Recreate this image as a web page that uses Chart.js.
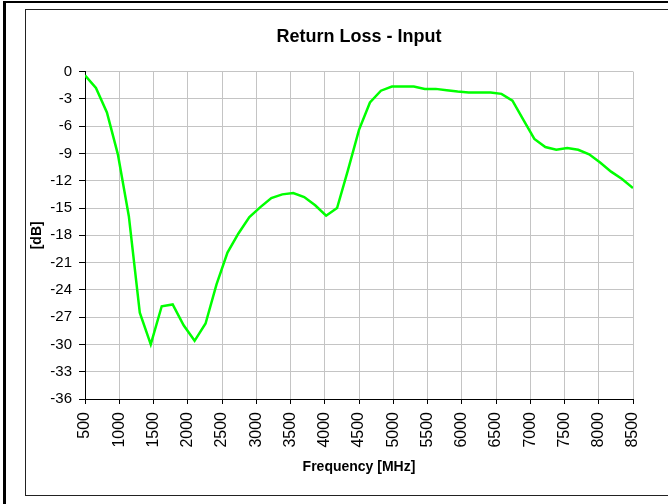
<!DOCTYPE html>
<html>
<head>
<meta charset="utf-8">
<title>Return Loss - Input</title>
<script src="https://cdn.jsdelivr.net/npm/chart.js@4.4.1/dist/chart.umd.min.js"></script>
<style>
    html, body { margin: 0; padding: 0; background: #fff; }
    #wrap { position: relative; width: 668px; height: 504px; overflow: hidden; }
    #chart { position: absolute; left: 0; top: 0; }
    .outer { position: absolute; left: 3px; top: 1px; width: 700px; height: 520px; border-top: 2px solid #000; border-left: 3px solid #000; }
    .inner { position: absolute; left: 25px; top: 9px; width: 700px; height: 485px; border: 1px solid #222; }
</style>
</head>
<body>
<div id="wrap">
    <div class="outer"></div>
    <div class="inner"></div>
    <canvas id="chart" width="668" height="504"></canvas>
</div>
<script>
    // Data (MHz / dB)
    var freqMHz = [500, 660, 820, 980, 1140, 1300, 1460, 1620, 1780, 1940,
        2100, 2260, 2420, 2580, 2740, 2900, 3060, 3220, 3380, 3540,
        3700, 3860, 4020, 4180, 4340, 4500, 4660, 4820, 4980, 5140,
        5300, 5460, 5620, 5780, 5940, 6100, 6260, 6420, 6580, 6740,
        6900, 7060, 7220, 7380, 7540, 7700, 7860, 8020, 8180, 8340, 8500];
    var returnLossDb = [-0.4, -1.8, -4.5, -9.1, -15.9, -26.5, -30.0, -25.8, -25.6, -27.9,
        -29.6, -27.7, -23.4, -19.9, -17.8, -16.0, -14.9, -13.9, -13.5, -13.35,
        -13.8, -14.7, -15.85, -15.0, -10.8, -6.4, -3.4, -2.1, -1.65, -1.65,
        -1.65, -1.9, -1.9, -2.05, -2.2, -2.3, -2.3, -2.3, -2.45, -3.2,
        -5.3, -7.4, -8.3, -8.6, -8.4, -8.6, -9.1, -10.0, -11.0, -11.8, -12.8];

    // Tick labels
    var freqTicks = [500, 1000, 1500, 2000, 2500, 3000, 3500, 4000, 4500,
        5000, 5500, 6000, 6500, 7000, 7500, 8000, 8500];
    var dbTicks = [0, -3, -6, -9, -12, -15, -18, -21, -24, -27, -30, -33, -36];

    Chart.defaults.font.family = '"Liberation Sans", Arial, sans-serif';

    var points = freqMHz.map(function (f, i) {
        return { x: f, y: returnLossDb[i] };
    });

    var ctx = document.getElementById('chart').getContext('2d');
    var myChart = new Chart(ctx, {
        type: 'line',
        data: {
            datasets: [{
                label: 'Return Loss',
                data: points,
                borderColor: '#00ff00',
                borderWidth: 2.5,
                pointRadius: 0,
                tension: 0,
                fill: false
            }]
        },
        options: {
            responsive: false,
            animation: false,
            layout: { padding: { left: 25, top: 10, right: 35, bottom: 8 } },
            plugins: {
                legend: { display: false },
                tooltip: { enabled: false },
                title: {
                    display: true,
                    text: 'Return Loss - Input',
                    fullSize: false,
                    color: '#000',
                    font: { size: 18, weight: 'bold' },
                    padding: { top: 16, bottom: 24 }
                }
            },
            scales: {
                x: {
                    type: 'linear',
                    min: 500,
                    max: 8500,
                    afterBuildTicks: function (scale) {
                        scale.ticks = freqTicks.map(function (v) { return { value: v }; });
                    },
                    afterFit: function (scale) { scale.height = 97; },
                    ticks: {
                        color: '#000',
                        font: { size: 16 },
                        minRotation: 90,
                        maxRotation: 90,
                        autoSkip: false,
                        padding: 8,
                        callback: function (v) { return String(v); }
                    },
                    grid: { color: '#c4c4c4', tickColor: '#000', tickLength: 5 },
                    border: { color: '#000' },
                    title: {
                        display: true,
                        text: 'Frequency [MHz]',
                        color: '#000',
                        font: { size: 14, weight: 'bold' },
                        padding: { top: 0, bottom: 20 }
                    }
                },
                y: {
                    min: -36,
                    max: 0,
                    afterBuildTicks: function (scale) {
                        scale.ticks = dbTicks.map(function (v) { return { value: v }; });
                    },
                    afterFit: function (scale) { scale.width = 60; },
                    ticks: {
                        color: '#000',
                        font: { size: 15 },
                        padding: 7,
                        callback: function (v) { return String(v); }
                    },
                    grid: { color: '#c4c4c4', tickColor: '#000', tickLength: 6 },
                    border: { color: '#000' },
                    title: {
                        display: true,
                        text: '[dB]',
                        color: '#000',
                        font: { size: 14, weight: 'bold' },
                        padding: { top: 4, bottom: 0 }
                    }
                }
            }
        }
    });
</script>
</body>
</html>
